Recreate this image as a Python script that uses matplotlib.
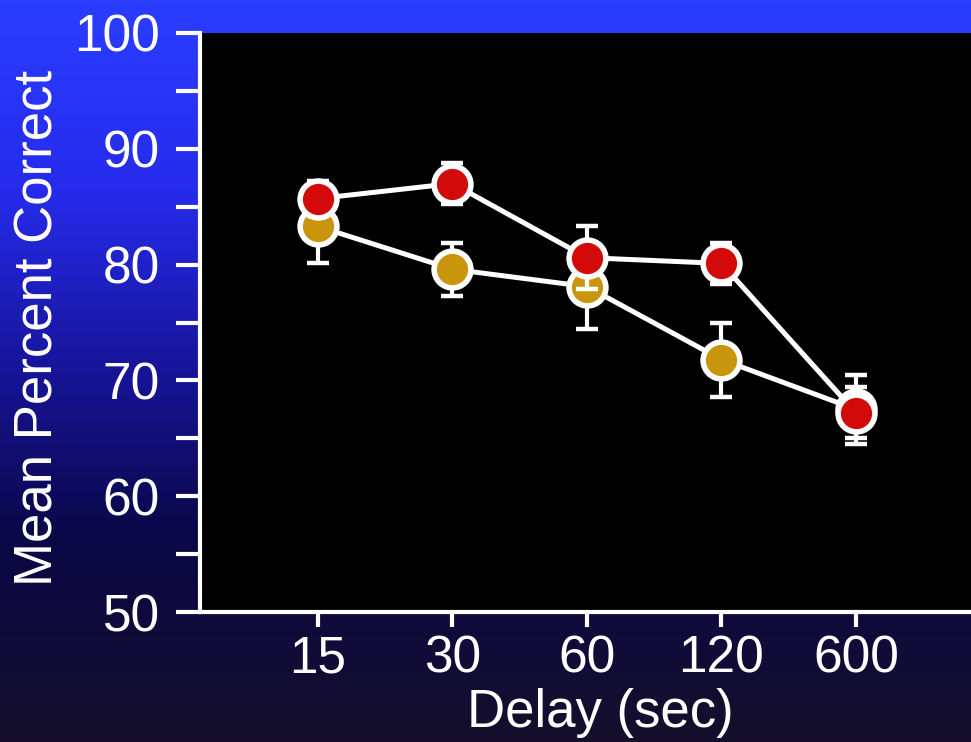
import numpy as np
import matplotlib
matplotlib.use("Agg")
import matplotlib.pyplot as plt
from matplotlib.colors import LinearSegmentedColormap

# ---- data ----
delays = ["15", "30", "60", "120", "600"]
red_mean = [85.7, 87.0, 80.6, 80.1, 67.2]
red_err = [1.5, 1.8, 2.7, 1.8, 2.2]
gold_mean = [83.3, 79.6, 78.1, 71.8, 67.5]
gold_err = [3.2, 2.3, 3.7, 3.2, 3.0]
yticks_major = [50, 60, 70, 80, 90, 100]
yticks_minor = [55, 65, 75, 85, 95]

RED = "#d20a0a"
GOLD = "#c8950c"

plt.rcParams['font.family'] = ['Liberation Sans', 'DejaVu Sans']

fig = plt.figure(figsize=(9.71, 7.42), dpi=100)

# background gradient
bg = fig.add_axes([0, 0, 1, 1], zorder=-10)
cmap = LinearSegmentedColormap.from_list(
    "bg",
    [(0.0, (0.165, 0.24, 1.0)),
     (0.25, (0.15, 0.17, 0.93)),
     (0.5, (0.09, 0.08, 0.6)),
     (0.72, (0.04, 0.03, 0.28)),
     (1.0, (0.085, 0.06, 0.17))])
grad = np.linspace(0, 1, 512).reshape(-1, 1)
bg.imshow(grad, aspect="auto", cmap=cmap, extent=[0, 1, 0, 1], origin="upper")
bg.set_axis_off()

ax = fig.add_axes([200 / 971, 130 / 742, 771 / 971, 579 / 742])
ax.set_facecolor("black")

x = np.arange(len(delays))

# gold series
ax.plot(x, gold_mean, color="white", lw=3.6, zorder=2)
ax.errorbar(x, gold_mean, yerr=gold_err, fmt="none", ecolor="white",
            elinewidth=3, capsize=8, capthick=3.2, zorder=3)
ax.plot(x, gold_mean, linestyle="none", marker="o", ms=26.5, mfc=GOLD,
        mec="white", mew=4, zorder=4)

# red series
ax.plot(x, red_mean, color="white", lw=3.6, zorder=5)
ax.errorbar(x, red_mean, yerr=red_err, fmt="none", ecolor="white",
            elinewidth=3, capsize=8, capthick=3.2, zorder=6)
ax.plot(x, red_mean, linestyle="none", marker="o", ms=26.5, mfc=RED,
        mec="white", mew=4, zorder=7)

ax.set_xlim(-0.877, 4.855)
ax.set_ylim(50, 100)

ax.set_xticks(x)
ax.set_xticklabels(delays)
ax.set_yticks(yticks_major)
ax.set_yticks(yticks_minor, minor=True)

for s in ["top", "right"]:
    ax.spines[s].set_visible(False)
for s in ["left", "bottom"]:
    ax.spines[s].set_color("white")
    ax.spines[s].set_linewidth(3)

ax.tick_params(axis="y", which="both", direction="out", length=17, width=3,
               color="white", labelcolor="white", labelsize=37, pad=12)
ax.tick_params(axis="x", which="both", direction="out", length=11, width=3,
               color="white", labelcolor="white", labelsize=37, pad=5)

ax.set_ylabel("Mean Percent Correct", color="white", fontsize=38, va="center")
ax.yaxis.set_label_coords(-0.21, 0.49)
ax.set_xlabel("Delay (sec)", color="white", fontsize=38, va="center")
ax.xaxis.set_label_coords(0.519, -0.175)

fig.savefig("out.png", dpi=100)
